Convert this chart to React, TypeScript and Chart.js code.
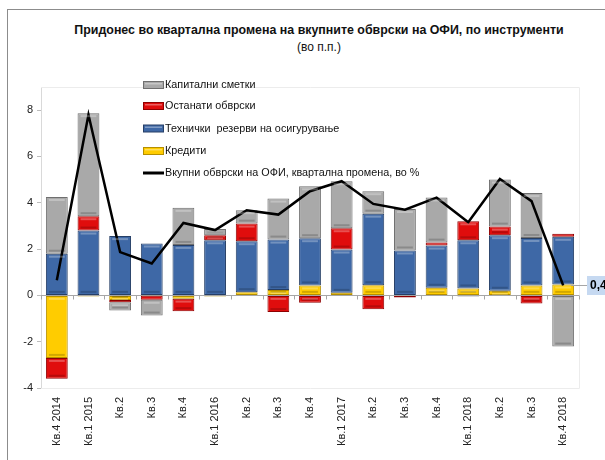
import React, { useEffect, useRef } from "react";
import { Chart, registerables } from "chart.js";
Chart.register(...registerables);

const categories = ["Кв.4 2014", "Кв.1 2015", "Кв.2", "Кв.3", "Кв.4", "Кв.1 2016", "Кв.2", "Кв.3", "Кв.4", "Кв.1 2017", "Кв.2", "Кв.3", "Кв.4", "Кв.1 2018", "Кв.2", "Кв.3", "Кв.4 2018"];
const kapitalniSmetki = [2.45, 4.45, -0.35, -0.68, 1.6, 0.27, 0.58, 1.77, 2.24, 2.03, 0.97, 1.79, 1.95, -0.05, 2.03, 1.94, -2.21];
const ostanatiObvrski = [-0.9, 0.62, -0.1, -0.17, -0.54, 0.22, 0.76, -0.72, -0.32, 0.92, -0.6, -0.09, 0.13, 0.82, 0.37, -0.35, 0.13];
const tehnickiRezervi = [1.8, 2.8, 2.56, 2.24, 2.18, 2.38, 2.2, 2.18, 2.04, 1.87, 3.09, 1.94, 1.82, 2.08, 2.4, 2.05, 2.06];
const krediti = [-2.7, -0.05, -0.2, -0.02, -0.14, -0.05, 0.14, 0.23, 0.43, 0.11, 0.44, 0, 0.33, 0.3, 0.2, 0.43, 0.47];
const vkupniObvrski = [0.65, 7.8, 1.87, 1.38, 3.13, 2.82, 3.68, 3.49, 4.5, 4.93, 3.95, 3.7, 4.22, 3.16, 5.03, 4.07, 0.43];
const yTicks = [-4, -2, 0, 2, 4, 6, 8];

const FONT = "'Liberation Sans', Arial, sans-serif";

const plotFrame = {
  id: "plotFrame",
  beforeDatasetsDraw(chart: any) {
    const { ctx, chartArea: a, scales } = chart;
    ctx.save();
    ctx.strokeStyle = "#ececec";
    ctx.lineWidth = 1;
    ctx.beginPath();
    ctx.moveTo(a.left, a.top + 0.5);
    ctx.lineTo(a.right + 0.5, a.top + 0.5);
    ctx.lineTo(a.right + 0.5, a.bottom + 0.5);
    ctx.lineTo(a.left, a.bottom + 0.5);
    ctx.stroke();
    const y0 = Math.round(scales.y.getPixelForValue(0)) + 0.5;
    ctx.strokeStyle = "#a6a6a6";
    ctx.beginPath();
    ctx.moveTo(a.left, y0);
    ctx.lineTo(a.right, y0);
    const n = chart.data.labels.length;
    const step = (a.right - a.left) / n;
    for (let i = 0; i <= n; i++) {
      const x = Math.round(a.left + i * step) + 0.5;
      ctx.moveTo(x, y0);
      ctx.lineTo(x, y0 + 4);
    }
    ctx.stroke();
    ctx.restore();
  },
};

const customLegend = {
  id: "customLegend",
  afterDraw(chart: any) {
    const { ctx } = chart;
    const order = [3, 2, 1, 0, 4];
    const x = 143;
    const rows = [85, 106, 128.5, 151, 173];
    ctx.save();
    ctx.font = `10.8px ${FONT}`;
    ctx.textBaseline = "middle";
    order.forEach((di, k) => {
      const ds = chart.data.datasets[di];
      const y = rows[k];
      if (ds.type === "line") {
        ctx.strokeStyle = ds.borderColor;
        ctx.lineWidth = 3;
        ctx.beginPath();
        ctx.moveTo(x, y);
        ctx.lineTo(x + 21, y);
        ctx.stroke();
      } else {
        ctx.fillStyle = ds.borderColor;
        ctx.fillRect(x, y - 4, 21, 8);
        ctx.fillStyle = ds.backgroundColor;
        ctx.fillRect(x + 1, y - 3, 19, 6);
        ctx.fillStyle = "rgba(255,255,255,0.35)";
        ctx.fillRect(x + 2, y - 2, 17, 1.5);
      }
      ctx.fillStyle = "#111";
      ctx.fillText(ds.label, x + 22, y + 0.5);
    });
    ctx.restore();
  },
};

const bevel = {
  id: "bevel",
  afterDatasetsDraw(chart: any) {
    const { ctx } = chart;
    ctx.save();
    for (let di = 0; di < 4; di++) {
      const meta = chart.getDatasetMeta(di);
      meta.data.forEach((el: any) => {
        const left = el.x - el.width / 2;
        const top = Math.min(el.y, el.base);
        const h = Math.abs(el.base - el.y);
        if (h < 4) return;
        ctx.fillStyle = "rgba(255,255,255,0.28)";
        ctx.fillRect(left + 3, top + 2, el.width - 6, 2);
        ctx.fillStyle = "rgba(0,0,0,0.18)";
        ctx.fillRect(left + 3, top + h - 4, el.width - 6, 2);
      });
    }
    ctx.restore();
  },
};

const dataLabel = {
  id: "dataLabel",
  afterDraw(chart: any) {
    const { ctx } = chart;
    const meta = chart.getDatasetMeta(4);
    const last = meta.data[meta.data.length - 1];
    const val = vkupniObvrski[vkupniObvrski.length - 1];
    const text = val.toFixed(1).replace(".", ",");
    const y = Math.round(last.y) + 0.5;
    ctx.save();
    ctx.strokeStyle = "#a6a6a6";
    ctx.lineWidth = 1;
    ctx.beginPath();
    ctx.moveTo(last.x + 8, y);
    ctx.lineTo(587, y);
    ctx.stroke();
    ctx.fillStyle = "#c6d9f1";
    ctx.fillRect(587, y - 9.5, 30, 19);
    ctx.fillStyle = "#000";
    ctx.font = `bold 12px ${FONT}`;
    ctx.textBaseline = "middle";
    ctx.fillText(text, 590, y + 0.5);
    ctx.restore();
  },
};

export default function App() {
  const ref = useRef<HTMLCanvasElement>(null);
  useEffect(() => {
    const barCommon = {
      type: "bar" as const,
      stack: "bars",
      order: 1,
      borderWidth: 1,
      borderSkipped: false,
      categoryPercentage: 1,
      barPercentage: 0.69,
    };
    const chart = new Chart(ref.current!, {
      type: "bar",
      data: {
        labels: categories,
        datasets: [
          { ...barCommon, label: "Кредити", data: krediti, backgroundColor: "#ffcc00", borderColor: "#b58f00" },
          { ...barCommon, label: "Технички  резерви на осигурување", data: tehnickiRezervi, backgroundColor: "#3e68a6", borderColor: "#263f66" },
          { ...barCommon, label: "Останати обврски", data: ostanatiObvrski, backgroundColor: "#e00d0d", borderColor: "#8f0000" },
          { ...barCommon, label: "Капитални сметки", data: kapitalniSmetki, backgroundColor: "#a9a9a9", borderColor: "#6f6f6f" },
          {
            type: "line" as const,
            label: "Вкупни обврски на ОФИ, квартална промена, во %",
            data: vkupniObvrski,
            stack: "line",
            order: 0,
            borderColor: "#000000",
            backgroundColor: "#000000",
            borderWidth: 2.5,
            pointRadius: 0,
            tension: 0,
          } as any,
        ],
      },
      options: {
        animation: false,
        responsive: false,
        maintainAspectRatio: false,
        layout: { padding: { top: 87, right: 26, left: 0, bottom: 0 } },
        plugins: { legend: { display: false }, tooltip: { enabled: false } },
        scales: {
          x: {
            stacked: true,
            grid: { display: false, drawTicks: false },
            border: { display: false },
            ticks: {
              autoSkip: false,
              minRotation: 90,
              maxRotation: 90,
              padding: 9,
              color: "#222",
              font: { family: FONT, size: 11 },
            },
            afterFit: (s: any) => {
              s.height = 72;
            },
          },
          y: {
            stacked: true,
            min: -4,
            max: 9,
            afterBuildTicks: (s: any) => {
              s.ticks = yTicks.map((v) => ({ value: v }));
            },
            grid: { drawOnChartArea: false, tickLength: 4, color: "#bdbdbd" },
            border: { color: "#d9d9d9" },
            ticks: {
              padding: 4,
              color: "#222",
              font: { family: FONT, size: 11 },
            },
            afterFit: (s: any) => {
              s.width = 41;
            },
          },
        },
      },
      plugins: [plotFrame, bevel, customLegend, dataLabel],
    });
    return () => chart.destroy();
  }, []);

  return (
    <div style={{ position: "fixed", left: 0, top: 0, width: 605, height: 460, background: "#fff", overflow: "hidden" }}>
      <div style={{ position: "absolute", left: 7, top: 9, width: 700, height: 600, borderTop: "1px solid #8c8c8c", borderLeft: "1px solid #8c8c8c" }} />
      <div style={{ position: "absolute", left: 0, top: 23, width: 638, textAlign: "center", fontFamily: FONT, fontWeight: "bold", fontSize: 12.4, color: "#111", whiteSpace: "nowrap" }}>
        Придонес во квартална промена на вкупните обврски на ОФИ, по инструменти
      </div>
      <div style={{ position: "absolute", left: 0, top: 40, width: 638, textAlign: "center", fontFamily: FONT, fontSize: 12, color: "#111" }}>
        (во п.п.)
      </div>
      <canvas ref={ref} width={605} height={460} style={{ position: "absolute", left: 0, top: 0 }} />
    </div>
  );
}
